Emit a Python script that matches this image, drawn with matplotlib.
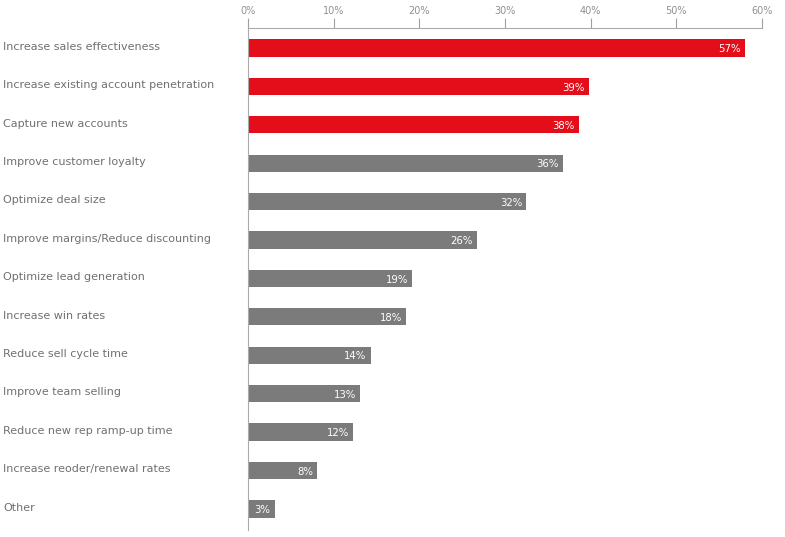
import numpy as np
import matplotlib.pyplot as plt
import matplotlib.transforms as mtransforms

# data
categories = [
    "Increase sales effectiveness",
    "Increase existing account penetration",
    "Capture new accounts",
    "Improve customer loyalty",
    "Optimize deal size",
    "Improve margins/Reduce discounting",
    "Optimize lead generation",
    "Increase win rates",
    "Reduce sell cycle time",
    "Improve team selling",
    "Reduce new rep ramp-up time",
    "Increase reoder/renewal rates",
    "Other",
]
bar_lengths = [58.0, 39.8, 38.6, 36.8, 32.5, 26.7, 19.2, 18.5, 14.3, 13.1, 12.3, 8.1, 3.1]
value_labels = ["57%", "39%", "38%", "36%", "32%", "26%", "19%", "18%", "14%", "13%", "12%", "8%", "3%"]
highlight = [True, True, True] + [False] * 10

red = "#e30e1a"
gray = "#7b7b7b"

fig = plt.figure(figsize=(7.85, 5.37), dpi=100)
ax = fig.add_axes([248 / 785, 7 / 537, 514 / 785, 502 / 537])

y = np.arange(len(categories))
colors = [red if h else gray for h in highlight]
ax.barh(y, bar_lengths, height=0.45, color=colors, left=0)

for yi, length, lab in zip(y, bar_lengths, value_labels):
    ax.text(length - 0.5, yi + 0.03, lab, ha="right", va="center",
            color="white", fontsize=7.3)

# category labels at the left edge of the figure
trans = mtransforms.blended_transform_factory(fig.transFigure, ax.transData)
for yi, cat in zip(y, categories):
    ax.text(3 / 785, yi - 0.03, cat, transform=trans, ha="left", va="center",
            color="#707070", fontsize=8)

ax.set_xlim(0, 60)
ax.set_ylim(12.55, -0.52)
ax.set_xticks(range(0, 61, 10))
ax.set_xticklabels([f"{v}%" for v in range(0, 61, 10)])
ax.xaxis.tick_top()
ax.tick_params(axis="x", colors="#a0a0a0", labelcolor="#909090", labelsize=7,
               length=7, width=0.8, pad=2)
ax.set_yticks([])

for side in ["right", "bottom"]:
    ax.spines[side].set_visible(False)
ax.spines["top"].set_color("#aaaaaa")
ax.spines["left"].set_color("#aaaaaa")
ax.spines["top"].set_linewidth(0.8)
ax.spines["left"].set_linewidth(0.8)

fig.savefig("out.png", dpi=100)
